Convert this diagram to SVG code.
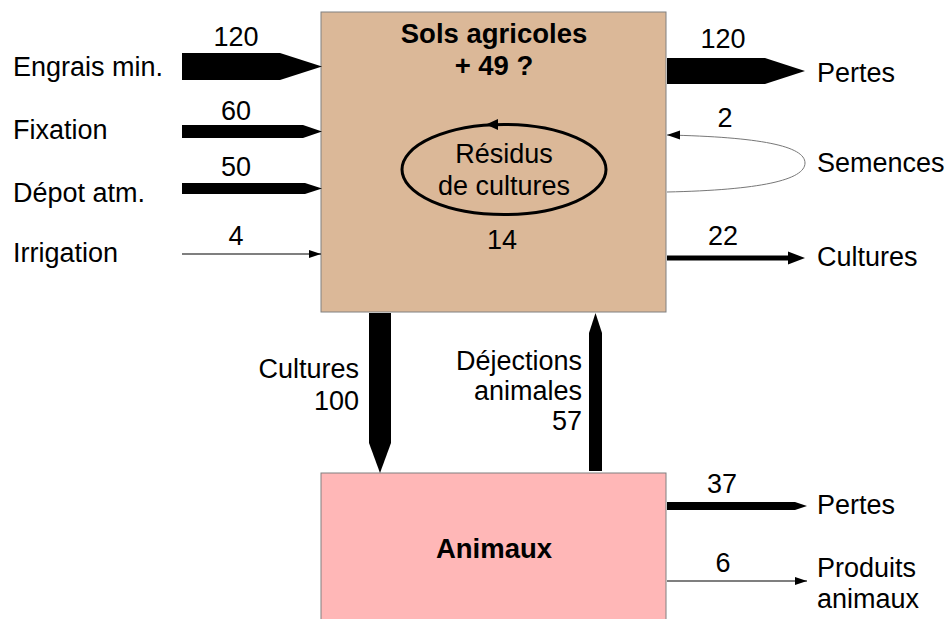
<svg xmlns="http://www.w3.org/2000/svg" width="948" height="619" viewBox="0 0 948 619">
<defs>
<style>
text{font-family:"Liberation Sans",Arial,sans-serif;font-size:27px;fill:#000}
.b{font-weight:bold;font-size:27.5px}
.m{text-anchor:middle}
.e{text-anchor:end}
.box{stroke:#808080;stroke-width:1}
.fl{fill:#000;stroke:none}
.thin{fill:none;stroke:#000;stroke-width:1.2}
</style>
<marker id="ah" viewBox="0 0 12 8" refX="12" refY="4" markerWidth="12" markerHeight="8" markerUnits="userSpaceOnUse" orient="auto">
<path d="M0,0 L12,4 L0,8 Z" fill="#000"/>
</marker>
</defs>
<rect width="948" height="619" fill="#fff"/>
<g id="sols">
<rect class="box" x="321" y="12" width="345" height="300" fill="#dbb898"/>
<text class="b m" x="494" y="43">Sols agricoles</text>
<text class="b m" x="494" y="75">+ 49 ?</text>
</g>
<g id="residus">
<ellipse cx="504" cy="169.5" rx="102" ry="45" fill="none" stroke="#000" stroke-width="3"/>
<path d="M486,124.5 L498,119 L498,130 Z" fill="#000"/>
<text class="m" x="504" y="163">Résidus</text>
<text class="m" x="504" y="195">de cultures</text>
<text class="m" x="502" y="249">14</text>
</g>
<g id="animaux">
<rect class="box" x="321" y="473" width="345" height="150" fill="#ffb7b7"/>
<text class="b m" x="494" y="558">Animaux</text>
</g>
<g id="labels">
<text x="13" y="76">Engrais min.</text>
<text x="13" y="139">Fixation</text>
<text x="13" y="202">Dépot atm.</text>
<text x="13" y="262">Irrigation</text>
<text x="817" y="82">Pertes</text>
<text x="817" y="172">Semences</text>
<text x="817" y="266">Cultures</text>
<text x="817" y="514">Pertes</text>
<text x="817" y="577">Produits</text>
<text x="817" y="608">animaux</text>
</g>
<g id="connectors">
<polygon class="fl" points="182,53 280,53 322,66.5 280,80 182,80"/>
<polygon class="fl" points="182,125 303,125 322,131.5 303,138 182,138"/>
<polygon class="fl" points="182,183 305,183 322,188.5 305,194 182,194"/>
<line class="thin" x1="182" y1="254" x2="321" y2="254" marker-end="url(#ah)"/>
<polygon class="fl" points="667,58 765,58 805,71 765,84 667,84"/>
<path d="M667,192 C760,190 805,180 805,163 C805,146 760,137 667,135" fill="none" stroke="#777" stroke-width="1"/>
<path d="M667,135 L680,130.5 L680,139.5 Z" fill="#000"/>
<polygon class="fl" points="667,255.5 788,255.5 788,251.5 805,258 788,264.5 788,260.5 667,260.5"/>
<polygon class="fl" points="369,313 391,313 391,443 380,473 369,443"/>
<polygon class="fl" points="589,471 602,471 602,333 595.5,313 589,333"/>
<polygon class="fl" points="667,502 795,502 807,506 795,510 667,510"/>
<line class="thin" x1="667" y1="581" x2="807" y2="581" marker-end="url(#ah)"/>
</g>
<g id="values">
<text class="m" x="236" y="46">120</text>
<text class="m" x="236" y="120">60</text>
<text class="m" x="236" y="176">50</text>
<text class="m" x="236" y="245">4</text>
<text class="m" x="723" y="48">120</text>
<text class="m" x="725" y="127">2</text>
<text class="m" x="723" y="245">22</text>
<text class="m" x="722" y="493">37</text>
<text class="m" x="723" y="572">6</text>
<text class="e" x="359" y="378">Cultures</text>
<text class="e" x="359" y="410">100</text>
<text class="e" x="582" y="370">Déjections</text>
<text class="e" x="582" y="400">animales</text>
<text class="e" x="582" y="430">57</text>
</g>
</svg>
